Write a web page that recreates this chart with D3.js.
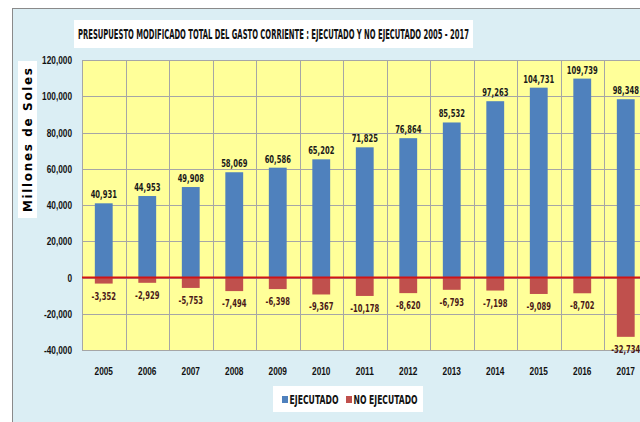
<!DOCTYPE html>
<html>
<head>
<meta charset="utf-8">
<script src="https://cdn.jsdelivr.net/npm/d3@7"></script>
<style>
  body { margin: 0; background: #fff; }
  svg { display: block; font-family: "DejaVu Sans Condensed", "Liberation Sans", sans-serif; }
  .tick-label { font-weight: bold; fill: #111; }
  .val { font-size: 10.5px; font-weight: bold; }
</style>
</head>
<body>
<script>
// data
const years = ['2005', '2006', '2007', '2008', '2009', '2010', '2011', '2012', '2013', '2014', '2015', '2016', '2017']
const ejecutado = [40931, 44953, 49908, 58069, 60586, 65202, 71825, 76864, 85532, 97263, 104731, 109739, 98348]
const noEjecutado = [-3352, -2929, -5753, -7494, -6398, -9367, -10178, -8620, -6793, -7198, -9089, -8702, -32734]
const yTicks = [-40000, -20000, 0, 20000, 40000, 60000, 80000, 100000, 120000]
const seriesNames = ['EJECUTADO', 'NO EJECUTADO']

const BLUE = '#4f81bd'
const RED = '#c0504d'

const width = 640
const height = 422

const svg = d3.select('body').append('svg')
  .attr('width', width)
  .attr('height', height)

// the reference uses a narrow font, squeeze the text to get close
function squeeze(sel, k) {
  sel.each(function() {
    const w = this.getComputedTextLength()
    d3.select(this)
      .attr('textLength', w * k)
      .attr('lengthAdjust', 'spacingAndGlyphs')
  })
}

// plain hyphen for negatives, like the original
const fmt = d3.formatLocale({ decimal: '.', thousands: ',', grouping: [3], currency: ['', ''], minus: '-' }).format(',')

// outer chart area
svg.append('rect')
  .attr('x', 12.5).attr('y', 8.5)
  .attr('width', 700).attr('height', 500)
  .attr('fill', '#dbeef4')
  .attr('stroke', '#8a8a8a')

// title box
svg.append('rect')
  .attr('x', 74).attr('y', 20)
  .attr('width', 399).attr('height', 28)
  .attr('fill', '#fff')
svg.append('text')
  .attr('x', 78).attr('y', 39)
  .attr('textLength', 391)
  .attr('lengthAdjust', 'spacingAndGlyphs')
  .style('font-size', '14px')
  .style('font-weight', 'bold')
  .attr('fill', '#111')
  .text('PRESUPUESTO MODIFICADO TOTAL DEL GASTO CORRIENTE : EJECUTADO Y NO EJECUTADO 2005 - 2017')

// scales
const left = 82
const step = 43.5
const x = d3.scaleBand()
  .domain(years)
  .range([left, left + step * years.length])
  .paddingInner(0.59)
  .paddingOuter(0.295)

const y = d3.scaleLinear()
  .domain([-40000, 120000])
  .range([350, 60])

// plot background
svg.append('rect')
  .attr('x', left).attr('y', y(120000))
  .attr('width', step * years.length)
  .attr('height', y(-40000) - y(120000))
  .attr('fill', '#ffff99')

// grid lines
const grid = svg.append('g').attr('stroke', '#a6a6a6').attr('stroke-width', 1)
grid.selectAll('line.h')
  .data(yTicks)
  .enter().append('line')
    .attr('x1', left).attr('x2', left + step * years.length)
    .attr('y1', d => Math.round(y(d)) + 0.5)
    .attr('y2', d => Math.round(y(d)) + 0.5)
grid.selectAll('line.v')
  .data(d3.range(years.length + 1))
  .enter().append('line')
    .attr('x1', i => Math.round(left + i * step) + 0.5)
    .attr('x2', i => Math.round(left + i * step) + 0.5)
    .attr('y1', y(120000)).attr('y2', y(-40000))

// bars
svg.append('g').selectAll('rect')
  .data(ejecutado)
  .enter().append('rect')
    .attr('x', (d, i) => x(years[i]))
    .attr('width', x.bandwidth())
    .attr('y', d => y(d))
    .attr('height', d => y(0) - y(d))
    .attr('fill', BLUE)

svg.append('g').selectAll('rect')
  .data(noEjecutado)
  .enter().append('rect')
    .attr('x', (d, i) => x(years[i]))
    .attr('width', x.bandwidth())
    .attr('y', y(0))
    .attr('height', d => y(d) - y(0))
    .attr('fill', RED)

// zero line
svg.append('line')
  .attr('x1', left).attr('x2', left + step * years.length)
  .attr('y1', y(0)).attr('y2', y(0))
  .attr('stroke', '#d21414')
  .attr('stroke-width', 2)

// value labels
svg.append('g').selectAll('text')
  .data(ejecutado)
  .enter().append('text')
    .attr('class', 'val')
    .attr('x', (d, i) => x(years[i]) + x.bandwidth() / 2)
    .attr('y', d => y(d) - 5)
    .attr('text-anchor', 'middle')
    .attr('fill', '#1a1a1a')
    .text(d => fmt(d))
    .call(squeeze, 0.72)

svg.append('g').selectAll('text')
  .data(noEjecutado)
  .enter().append('text')
    .attr('class', 'val')
    .attr('x', (d, i) => x(years[i]) + x.bandwidth() / 2)
    .attr('y', d => y(d) + 16)
    .attr('text-anchor', 'middle')
    .attr('fill', '#4a1818')
    .text(d => fmt(d))
    .call(squeeze, 0.72)

// y axis
const yAxis = svg.append('g')
  .attr('transform', 'translate(' + (left - 7) + ',0)')
  .call(d3.axisLeft(y).tickValues(yTicks).tickFormat(fmt).tickSize(0))
yAxis.select('.domain').remove()
yAxis.selectAll('text')
  .attr('class', 'tick-label')
  .attr('fill', '#111')
  .style('font-size', '11.5px')
  .call(squeeze, 0.72)

// x axis
const xAxis = svg.append('g')
  .attr('transform', 'translate(0,' + y(-40000) + ')')
  .call(d3.axisBottom(x).tickSize(0).tickPadding(17))
xAxis.select('.domain').remove()
xAxis.selectAll('text')
  .attr('class', 'tick-label')
  .attr('fill', '#111')
  .style('font-size', '11.5px')
  .call(squeeze, 0.72)

// y axis title
svg.append('rect')
  .attr('x', 18).attr('y', 61)
  .attr('width', 19).attr('height', 157)
  .attr('fill', '#fff')
svg.append('text')
  .attr('transform', 'translate(32,140) rotate(-90)')
  .attr('text-anchor', 'middle')
  .attr('textLength', 144)
  .attr('lengthAdjust', 'spacing')
  .style('font-family', '"DejaVu Sans", sans-serif')
  .style('font-size', '12px')
  .style('font-weight', 'bold')
  .attr('fill', '#000')
  .text('Millones de Soles')

// legend
const legend = svg.append('g')
legend.append('rect')
  .attr('x', 273).attr('y', 386)
  .attr('width', 150).attr('height', 26)
  .attr('fill', '#fff')
const legendX = [282, 346]
const legendW = [49, 64]
const legendItem = legend.selectAll('g')
  .data(seriesNames)
  .enter().append('g')
    .attr('transform', (d, i) => 'translate(' + legendX[i] + ',396)')
legendItem.append('rect')
  .attr('width', 6).attr('height', 7)
  .attr('fill', (d, i) => i === 0 ? BLUE : RED)
legendItem.append('text')
  .attr('x', 7.5).attr('y', 8)
  .attr('textLength', (d, i) => legendW[i])
  .attr('lengthAdjust', 'spacingAndGlyphs')
  .style('font-size', '11.5px')
  .style('font-weight', 'bold')
  .attr('fill', '#111')
  .text(d => d)
</script>
</body>
</html>
